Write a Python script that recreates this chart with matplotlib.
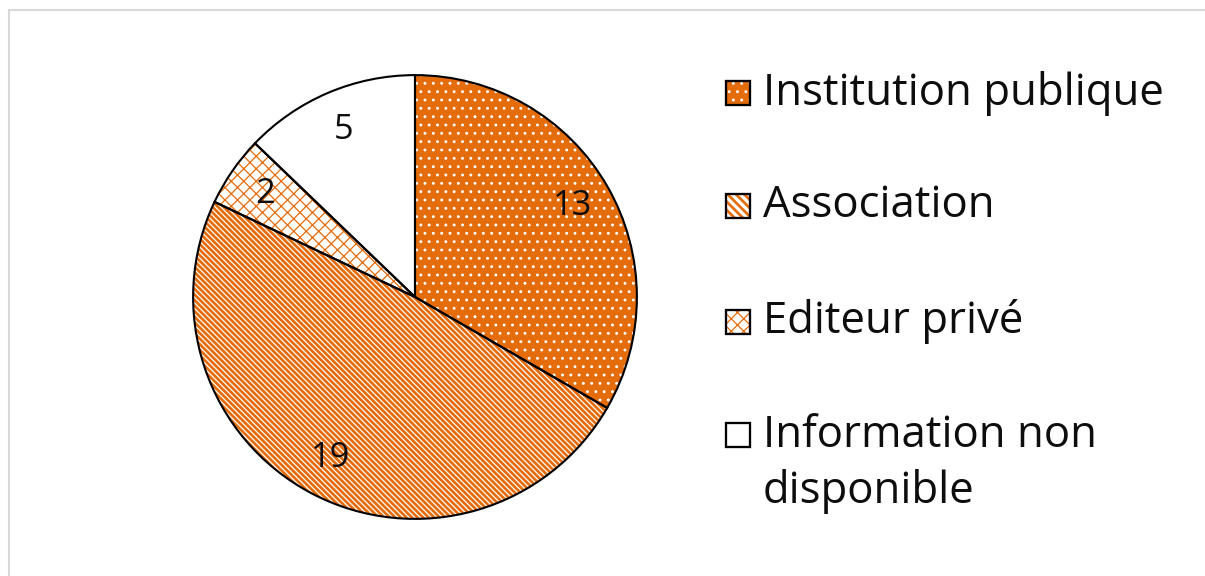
import matplotlib
matplotlib.use("Agg")
import numpy as np
import matplotlib.pyplot as plt
from matplotlib.patches import Wedge, Rectangle
from matplotlib.lines import Line2D

categories = ["Institution publique", "Association", "Editeur privé",
              "Information non\ndisponible"]
values = [13, 19, 2, 5]

ORANGE = "#e46c0a"
TEXT = "#0d0d0d"
W, H = 1206, 576
DPI = 150

plt.rcParams["font.family"] = ["Open Sans", "DejaVu Sans"]

# fill, hatch in pie, hatch in legend, hatch colour, hatch width (pt)
styles = [
    (ORANGE, "...", "...", "white", 0.6),
    ("white", "\\" * 9, "\\" * 6, ORANGE, 1.3),
    ("white", "xxxx", "xxxx", ORANGE, 0.6),
    ("white", "", "", "white", 0.0),
]


def fx(x):
    return x / W


def fy(y):
    return 1 - y / H


def hatched(patch, fill, hatch, hcolor, hlw):
    patch.set_facecolor(fill)
    patch.set_edgecolor(hcolor)
    patch.set_hatch(hatch)
    patch.set_linewidth(0)
    if hasattr(patch, "set_hatch_linewidth"):
        patch.set_hatch_linewidth(hlw)


fig = plt.figure(figsize=(W / DPI, H / DPI), dpi=DPI)

# pie
cx, cy, r = 415, 297, 223
ax = fig.add_axes([fx(cx - r), fy(cy + r), 2 * r / W, 2 * r / H])
ax.axis("off")

wedges, _ = ax.pie(values, startangle=90, counterclock=False, radius=1,
                   center=(0, 0), frame=False)
ax.set_xlim(-1.005, 1.005)
ax.set_ylim(-1.005, 1.005)
ax.set_aspect("auto")

for w, (fill, hatch, _, hc, hlw), v in zip(wedges, styles, values):
    plt.rcParams["hatch.linewidth"] = hlw
    hatched(w, fill, hatch, hc, hlw)
    ax.add_patch(Wedge(w.center, w.r, w.theta1, w.theta2, facecolor="none",
                       edgecolor="black", linewidth=1.0))
    mid = np.deg2rad((w.theta1 + w.theta2) / 2)
    ax.text(0.82 * np.cos(mid), 0.82 * np.sin(mid), str(v), ha="center",
            va="center", fontsize=16.5, color=TEXT)

# legend
rows = [93, 206, 322, 435]
sq = 24
for y, lab, (fill, _, hatch, hc, hlw) in zip(rows, categories, styles):
    box = Rectangle((fx(726), fy(y + sq / 2)), sq / W, sq / H,
                    transform=fig.transFigure)
    hatched(box, fill, hatch, hc, hlw)
    fig.add_artist(box)
    fig.add_artist(Rectangle((fx(726), fy(y + sq / 2)), sq / W, sq / H,
                             transform=fig.transFigure, facecolor="none",
                             edgecolor="black", linewidth=1.1))
    ty = y + 29 if "\n" in lab else y
    fig.text(fx(763), fy(ty), lab, ha="left", va="center",
             fontsize=21, color=TEXT, linespacing=1.33,
             transform=fig.transFigure)

# chart area border
fig.add_artist(Line2D([fx(9), 1], [fy(10), fy(10)], color="#d9d9d9", lw=1.0,
                      transform=fig.transFigure))
fig.add_artist(Line2D([fx(9), fx(9)], [fy(10), 0], color="#d9d9d9", lw=1.0,
                      transform=fig.transFigure))

fig.savefig("out.png", dpi=DPI, facecolor="white")
